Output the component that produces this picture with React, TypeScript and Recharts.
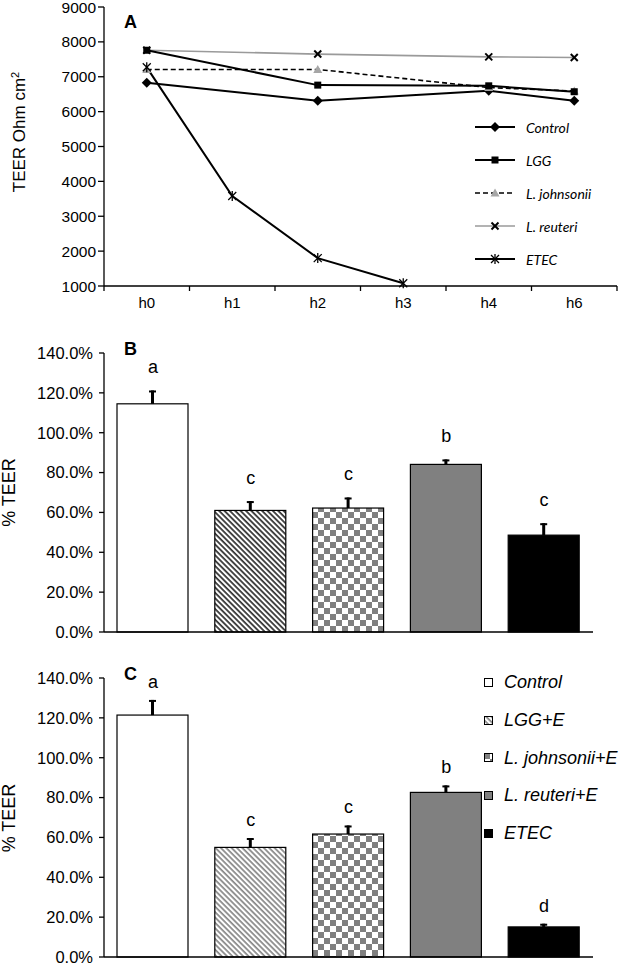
import {
  LineChart,
  Line,
  XAxis,
  YAxis,
  ComposedChart,
  Bar,
  Cell,
  LabelList,
  Legend,
} from 'recharts';

// panel A: TEER over time
const hours = ['h0', 'h1', 'h2', 'h3', 'h4', 'h6'];
const control = [6830, null, 6310, null, 6600, 6310];
const lgg = [7760, null, 6760, null, 6740, 6570];
const johnsonii = [7210, null, 7210, null, 6690, 6590];
const reuteri = [7760, null, 7650, null, 7570, 7550];
const etec = [7270, 3580, 1800, 1080, null, null];
const teerTicks = [1000, 2000, 3000, 4000, 5000, 6000, 7000, 8000, 9000];
const lineNames = ['Control', 'LGG', 'L. johnsonii', 'L. reuteri', 'ETEC'];

// panels B and C: % TEER per treatment
const groups = ['Control', 'LGG+E', 'L. johnsonii+E', 'L. reuteri+E', 'ETEC'];
const teerB = [114.5, 61.0, 62.2, 84.1, 48.6];
const errB = [6.7, 4.7, 5.3, 2.5, 6.0];
const lettersB = ['a', 'c', 'c', 'b', 'c'];
const teerC = [121.4, 55.0, 61.7, 82.6, 15.1];
const errC = [7.6, 4.7, 4.3, 3.5, 1.6];
const lettersC = ['a', 'c', 'c', 'b', 'd'];
const pctTicks = [0, 20, 40, 60, 80, 100, 120, 140];

const FONT = '"Liberation Sans", Arial, sans-serif';
const W = 622;
const A_LEFT = 104;
const A_RIGHT = 5;
const BAND = (W - A_LEFT - A_RIGHT) / hours.length;

const LINE_STYLE: Record<string, { stroke: string; width: number; dash?: string; marker: string }> = {
  Control: { stroke: '#000', width: 2, marker: 'diamond' },
  LGG: { stroke: '#000', width: 2, marker: 'square' },
  'L. johnsonii': { stroke: '#000', width: 1.6, dash: '5 3', marker: 'triangle' },
  'L. reuteri': { stroke: '#9a9a9a', width: 1.6, marker: 'cross' },
  ETEC: { stroke: '#000', width: 2, marker: 'star' },
};

const seriesValues: Record<string, (number | null)[]> = {
  Control: control,
  LGG: lgg,
  'L. johnsonii': johnsonii,
  'L. reuteri': reuteri,
  ETEC: etec,
};

const lineData = hours.map((h, i) => {
  const row: Record<string, any> = { hour: h };
  lineNames.forEach((n) => (row[n] = seriesValues[n][i]));
  return row;
});

const barB = groups.map((g, i) => ({ name: g, teer: teerB[i], err: errB[i], letter: lettersB[i] }));
const barC = groups.map((g, i) => ({ name: g, teer: teerC[i], err: errC[i], letter: lettersC[i] }));

function Marker({ kind, cx, cy }: { kind: string; cx: number; cy: number }) {
  switch (kind) {
    case 'diamond':
      return <polygon points={`${cx},${cy - 5} ${cx + 5},${cy} ${cx},${cy + 5} ${cx - 5},${cy}`} fill="#000" />;
    case 'square':
      return <rect x={cx - 3.5} y={cy - 3.5} width={7} height={7} fill="#000" />;
    case 'triangle':
      return <polygon points={`${cx},${cy - 4.5} ${cx + 4.5},${cy + 3.5} ${cx - 4.5},${cy + 3.5}`} fill="#a6a6a6" />;
    case 'cross':
      return (
        <g stroke="#000" strokeWidth={2}>
          <line x1={cx - 3.5} y1={cy - 3.5} x2={cx + 3.5} y2={cy + 3.5} />
          <line x1={cx - 3.5} y1={cy + 3.5} x2={cx + 3.5} y2={cy - 3.5} />
        </g>
      );
    default:
      return (
        <g stroke="#000" strokeWidth={1.3}>
          <line x1={cx - 4} y1={cy - 4} x2={cx + 4} y2={cy + 4} />
          <line x1={cx - 4} y1={cy + 4} x2={cx + 4} y2={cy - 4} />
          <line x1={cx} y1={cy - 5} x2={cx} y2={cy + 5} />
        </g>
      );
  }
}

function HourTick(props: any) {
  const { x, y, payload, index } = props;
  return (
    <g>
      <line x1={x - BAND / 2} x2={x - BAND / 2} y1={y} y2={y + 5} stroke="#000" strokeWidth={1.3} />
      {index === hours.length - 1 && (
        <line x1={x + BAND / 2} x2={x + BAND / 2} y1={y} y2={y + 5} stroke="#000" strokeWidth={1.3} />
      )}
      <text x={x} y={y + 22} textAnchor="middle" fontSize={15} fill="#000" fontFamily={FONT}>
        {payload.value}
      </text>
    </g>
  );
}

function AxisTitle({ px, py, fsz, t, sup }: any) {
  return (
    <text transform={`translate(${px},${py}) rotate(-90)`} textAnchor="middle" fontSize={fsz} fill="#000" fontFamily={FONT}>
      {t}
      {sup && (
        <tspan dy={-6} fontSize={fsz * 0.65}>
          {sup}
        </tspan>
      )}
    </text>
  );
}

function LineLegend() {
  return (
    <div>
      {lineNames.map((name) => {
        const s = LINE_STYLE[name];
        return (
          <div key={name} style={{ display: 'flex', alignItems: 'center', height: 33 }}>
            <svg width={40} height={12}>
              <line x1={0} x2={40} y1={6} y2={6} stroke={s.stroke} strokeWidth={s.width} strokeDasharray={s.dash} />
              <Marker kind={s.marker} cx={20} cy={6} />
            </svg>
            <span style={{ marginLeft: 11, fontFamily: 'Lato, sans-serif', fontStyle: 'italic', fontSize: 14 }}>{name}</span>
          </div>
        );
      })}
    </div>
  );
}

function barFills(id: string) {
  return ['#fff', `url(#hatch${id})`, `url(#check${id})`, '#808080', '#000'];
}

function BarLegend() {
  const fills = barFills('C');
  return (
    <div>
      {groups.map((g, i) => (
        <div key={g} style={{ display: 'flex', alignItems: 'center', height: 37.7 }}>
          <svg width={10} height={10}>
            <rect x={0.5} y={0.5} width={8} height={8} fill={fills[i]} stroke="#000" strokeWidth={1} />
          </svg>
          <span style={{ marginLeft: 10, fontFamily: FONT, fontStyle: 'italic', fontSize: 18 }}>{g}</span>
        </div>
      ))}
    </div>
  );
}

// bar with an upward-only error whisker, sized from the bar's own value-to-pixel ratio
function BarWithError(props: any) {
  const { x, y, width, height, fill, payload } = props;
  if (!height) return <g />;
  const ppu = height / payload.teer;
  const top = y - payload.err * ppu;
  const cx = x + width / 2;
  return (
    <g>
      <rect x={x} y={y} width={width} height={height} fill={fill} stroke="#000" strokeWidth={1.2} />
      <line x1={cx} x2={cx} y1={y} y2={top} stroke="#000" strokeWidth={3} />
      <line x1={cx - 3.5} x2={cx + 3.5} y1={top + 1} y2={top + 1} stroke="#000" strokeWidth={2} />
    </g>
  );
}

function Patterns({ id, hatchColor, hatchWidth }: { id: string; hatchColor: string; hatchWidth: number }) {
  return (
    <defs>
      <pattern id={`hatch${id}`} patternUnits="userSpaceOnUse" width={3.8} height={3.8} patternTransform="rotate(-45)">
        <rect width={3.8} height={3.8} fill="#fff" />
        <line x1={1} y1={0} x2={1} y2={3.8} stroke={hatchColor} strokeWidth={hatchWidth} />
      </pattern>
      <pattern id={`check${id}`} patternUnits="userSpaceOnUse" width={12} height={12}>
        <rect width={12} height={12} fill="#fff" />
        <rect x={0} y={0} width={6} height={6} fill="#808080" />
        <rect x={6} y={6} width={6} height={6} fill="#808080" />
      </pattern>
    </defs>
  );
}

function TeerBars({ id, data, height, top, xHeight, letterOffset, titleY, legend }: any) {
  const fills = barFills(id);
  return (
    <ComposedChart width={W} height={height} data={data} margin={{ top, right: 29, left: 0, bottom: 0 }} style={{ overflow: 'visible' }}>
      <Patterns id={id} hatchColor={id === 'B' ? '#000' : '#333'} hatchWidth={id === 'B' ? 1.4 : 1} />
      <XAxis dataKey="name" height={xHeight} tick={false} tickLine={false} axisLine={{ stroke: '#000', strokeWidth: 1.3 }} />
      <YAxis
        width={A_LEFT}
        domain={[0, 140]}
        ticks={pctTicks}
        interval={0}
        tickFormatter={(v: number) => `${v.toFixed(1)}%`}
        tickSize={5}
        tickMargin={6}
        tick={{ fill: '#000', fontSize: 16.5, fontFamily: FONT }}
        tickLine={{ stroke: '#000', strokeWidth: 1.3 }}
        axisLine={{ stroke: '#000', strokeWidth: 1.3 }}
        label={<AxisTitle px={15} py={titleY} fsz={18} t="% TEER" />}
      />
      <Bar dataKey="teer" barSize={71} isAnimationActive={false} shape={<BarWithError />}>
        {data.map((d: any, i: number) => (
          <Cell key={d.name} fill={fills[i]} />
        ))}
      </Bar>
      <Line
        dataKey={(d: any) => d.teer + d.err}
        stroke="none"
        dot={false}
        activeDot={false}
        legendType="none"
        isAnimationActive={false}
      >
        <LabelList dataKey="letter" position="top" offset={letterOffset} fill="#000" fontSize={18} fontFamily={FONT} />
      </Line>
      {legend && (
        <Legend
          layout="vertical"
          align="center"
          verticalAlign="middle"
          wrapperStyle={{ left: 484, top: 14, width: 140 }}
          content={() => <BarLegend />}
        />
      )}
    </ComposedChart>
  );
}

const panelLetter = (top: number): React.CSSProperties => ({
  position: 'absolute',
  left: 124,
  top,
  fontFamily: FONT,
  fontWeight: 'bold',
  fontSize: 18,
  lineHeight: 1,
});

export default function App() {
  return (
    <div style={{ position: 'relative', width: W, height: 964, background: '#fff', fontFamily: FONT, overflow: 'hidden' }}>
      <style>{'body{margin:0}'}</style>

      {/* A */}
      <div style={{ position: 'absolute', top: 0, left: 0 }}>
        <LineChart width={W} height={320} data={lineData} margin={{ top: 7, right: A_RIGHT, left: 0, bottom: 0 }}>
          <XAxis
            dataKey="hour"
            scale="band"
            height={34}
            interval={0}
            tickSize={0}
            tickMargin={0}
            tick={<HourTick />}
            tickLine={false}
            axisLine={{ stroke: '#000', strokeWidth: 1.3 }}
          />
          <YAxis
            width={A_LEFT}
            domain={[1000, 9000]}
            ticks={teerTicks}
            interval={0}
            tickSize={6}
            tickMargin={2}
            tick={{ fill: '#000', fontSize: 15.5, fontFamily: FONT }}
            tickLine={{ stroke: '#000', strokeWidth: 1.3 }}
            axisLine={{ stroke: '#000', strokeWidth: 1.3 }}
            label={<AxisTitle px={25} py={132} fsz={17} t="TEER Ohm cm" sup="2" />}
          />
          {['L. reuteri', 'Control', 'L. johnsonii', 'LGG', 'ETEC'].map((name) => {
            const s = LINE_STYLE[name];
            return (
              <Line
                key={name}
                dataKey={name}
                stroke={s.stroke}
                strokeWidth={s.width}
                strokeDasharray={s.dash}
                connectNulls
                isAnimationActive={false}
                activeDot={false}
                dot={(p: any) =>
                  p.value == null || p.cx == null ? (
                    <g key={`${name}-${p.index}`} />
                  ) : (
                    <g key={`${name}-${p.index}`}>
                      <Marker kind={s.marker} cx={p.cx} cy={p.cy} />
                    </g>
                  )
                }
              />
            );
          })}
          <Legend
            layout="vertical"
            align="center"
            verticalAlign="middle"
            wrapperStyle={{ left: 475, top: 110.5, width: 140 }}
            content={() => <LineLegend />}
          />
        </LineChart>
      </div>
      <span style={panelLetter(12.6)}>A</span>

      {/* B */}
      <div style={{ position: 'absolute', top: 320, left: 0 }}>
        <TeerBars id="B" data={barB} height={330} top={33} xHeight={18} letterOffset={17} titleY={172.5} />
      </div>
      <span style={panelLetter(340.3)}>B</span>

      {/* C */}
      <div style={{ position: 'absolute', top: 650, left: 0 }}>
        <TeerBars id="C" data={barC} height={314} top={28} xHeight={7} letterOffset={12} titleY={168} legend />
      </div>
      <span style={panelLetter(664.6)}>C</span>
    </div>
  );
}
